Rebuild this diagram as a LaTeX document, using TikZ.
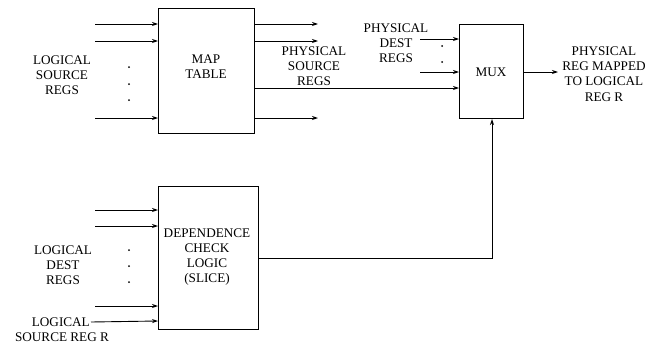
\documentclass[tikz,border=0pt]{standalone}
\usepackage{fontspec}
\setmainfont{Liberation Serif}
\newfontfamily\tfont{Liberation Serif}
\usetikzlibrary{arrows.meta}
\begin{document}
\begin{tikzpicture}[x=1pt,y=-1pt,
  blk/.style={draw,line width=1pt,inner sep=0pt,anchor=north west},
  lbl/.style={align=center,inner sep=0pt,font=\tfont\fontsize{13.2}{15.3}\selectfont},
  wire/.style={line width=0.9pt},
  arr/.style={wire,-{Stealth[length=6pt,width=4pt]}},
  dotc/.style={circle,fill,inner sep=0pt,minimum size=2pt}]
\useasboundingbox (0,0) rectangle (651,343);
% blocks
\node[blk,minimum width=96pt,minimum height=125pt] (map) at (158,8) {};
\node[lbl] at (206,67) {MAP\\TABLE};
\node[blk,minimum width=64pt,minimum height=94pt] (mux) at (459,24) {};
\node[lbl] at (491,72) {MUX};
\node[blk,minimum width=100pt,minimum height=143pt] (dcl) at (158,186) {};
\node[lbl] at (207,257) {DEPENDENCE\\CHECK\\LOGIC\\(SLICE)};
% labels
\node[lbl] (lsr) at (62,75) {LOGICAL\\SOURCE\\REGS};
\node[lbl] (psr) at (314,66) {PHYSICAL\\SOURCE\\REGS};
\node[lbl] (pdr) at (396,43) {PHYSICAL\\DEST\\REGS};
\node[lbl] (out) at (604,74) {PHYSICAL\\REG MAPPED\\TO LOGICAL\\REG R};
\node[lbl] (ldr) at (63,265) {LOGICAL\\DEST\\REGS};
\node[lbl,anchor=east] (lsrr) at (90,322) {LOGICAL};
\node[lbl] (lsrr2) at (62,337) {SOURCE REG R};
% map table inputs
\coordinate (mi1) at (95,24);
\coordinate (mi2) at (95,41);
\coordinate (mi3) at (95,118);
\foreach \c in {mi1,mi2,mi3} \draw[arr] (\c) -- (\c -| map.west);
\foreach \y in {67,84,100} \node[dotc] at (129,\y) {};
% map table outputs
\coordinate (mo1) at (318,24);
\coordinate (mo2) at (318,41);
\coordinate (mo3) at (318,118);
\foreach \c in {mo1,mo2,mo3} \draw[arr] (\c -| map.east) -- (\c);
\coordinate (mo4) at (254,88);
\draw[arr] (mo4 -| map.east) -- (mo4 -| mux.west);
% mux dest inputs
\coordinate (md1) at (420,39);
\coordinate (md2) at (420,72);
\foreach \c in {md1,md2} \draw[arr] (\c) -- (\c -| mux.west);
\foreach \y in {46,62} \node[dotc] at (442,\y) {};
% mux output
\coordinate (mout) at (558,72);
\draw[arr] (mout -| mux.east) -- (mout);
% dcl inputs
\coordinate (di1) at (95,210);
\coordinate (di2) at (95,226);
\coordinate (di3) at (95,306);
\coordinate (di4) at (100,321);
\foreach \c in {di1,di2,di3} \draw[arr] (\c) -- (\c -| dcl.west);
\draw[arr] (lsrr.east) ++(1,0) -- (di4 -| dcl.west);
\foreach \y in {250,266,282} \node[dotc] at (129,\y) {};
% dcl output to mux
\coordinate (dout) at (492,258);
\draw[arr] (dout -| dcl.east) -- (dout) -- (dout |- mux.south);
\end{tikzpicture}
\end{document}
